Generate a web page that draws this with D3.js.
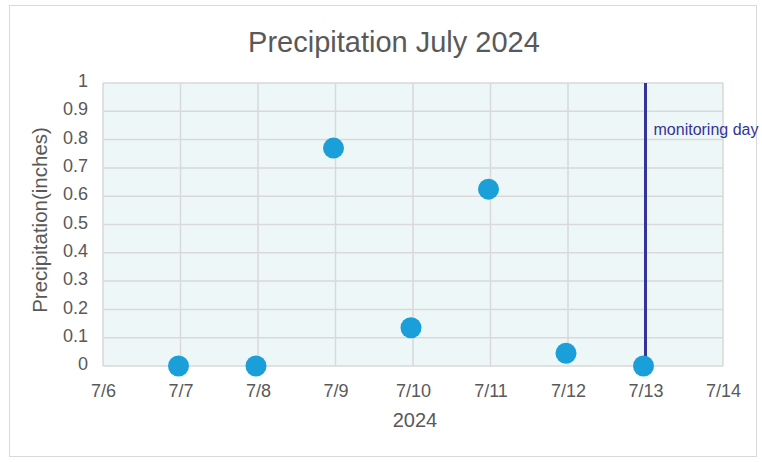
<!DOCTYPE html>
<html>
<head>
<meta charset="utf-8">
<script src="https://cdn.jsdelivr.net/npm/d3@7"></script>
<style>
  body { margin: 0; background: #fff; }
  svg text { font-family: "Liberation Sans", Arial, sans-serif; }
</style>
</head>
<body>
<div id="chart"></div>
<script>
// Precipitation scatter, July 2024
const dates = ['2024-07-07', '2024-07-08', '2024-07-09', '2024-07-10', '2024-07-11', '2024-07-12', '2024-07-13'];
const precip = [0, 0, 0.77, 0.135, 0.625, 0.045, 0];
const yTicks = [0, 0.1, 0.2, 0.3, 0.4, 0.5, 0.6, 0.7, 0.8, 0.9, 1];
const xDomain = ['2024-07-06', '2024-07-14'];
const monitoringDay = '2024-07-13';

const W = 762, H = 462;
const m = { left: 103, right: 39, top: 83, bottom: 96 };
const parse = d3.timeParse('%Y-%m-%d');

const svg = d3.select('#chart').append('svg')
  .attr('width', W)
  .attr('height', H);

// outer chart border
svg.append('rect')
  .attr('x', 9.5).attr('y', 5.5)
  .attr('width', 747).attr('height', 451)
  .attr('fill', '#fff')
  .attr('stroke', '#d9d9d9');

const x = d3.scaleTime()
  .domain(xDomain.map(parse))
  .range([m.left, W - m.right]);
const y = d3.scaleLinear()
  .domain([0, 1])
  .range([H - m.bottom, m.top]);

// plot background
svg.append('rect')
  .attr('x', m.left).attr('y', m.top)
  .attr('width', x.range()[1] - m.left)
  .attr('height', y(0) - m.top)
  .attr('fill', '#eef7f7');

const xTickVals = d3.timeDay.range(parse(xDomain[0]), d3.timeDay.offset(parse(xDomain[1]), 1));

// gridlines
svg.append('g')
  .attr('stroke', '#d9d9d9')
  .attr('stroke-width', 1.5)
  .selectAll('line.h')
  .data(yTicks)
  .join('line')
  .attr('x1', m.left).attr('x2', x.range()[1])
  .attr('y1', d => y(d)).attr('y2', d => y(d));

svg.append('g')
  .attr('stroke', '#d9d9d9')
  .attr('stroke-width', 1.5)
  .selectAll('line.v')
  .data(xTickVals)
  .join('line')
  .attr('x1', d => x(d)).attr('x2', d => x(d))
  .attr('y1', y(0)).attr('y2', y(1));

// axes (labels only)
const xAxis = svg.append('g')
  .attr('transform', `translate(0,${y(0)})`)
  .call(d3.axisBottom(x).tickValues(xTickVals).tickFormat(d3.timeFormat('%-m/%-d')).tickSize(0).tickPadding(18));
const yAxis = svg.append('g')
  .attr('transform', `translate(${m.left},0)`)
  .call(d3.axisLeft(y).tickValues(yTicks).tickFormat(d3.format('')).tickSize(0).tickPadding(15));
[xAxis, yAxis].forEach(a => {
  a.select('.domain').remove();
  a.selectAll('text')
    .attr('fill', '#595959')
    .style('font-size', '18px');
});
yAxis.selectAll('text').attr('dy', '0.2em');

// monitoring day line
const md = parse(monitoringDay);
svg.append('line')
  .attr('x1', x(md)).attr('x2', x(md))
  .attr('y1', y(1)).attr('y2', y(0))
  .attr('stroke', '#33339a')
  .attr('stroke-width', 3);
svg.append('text')
  .attr('x', x(md) + 8)
  .attr('y', 135)
  .attr('fill', '#33339a')
  .style('font-size', '16px')
  .text('monitoring day');

// points
svg.append('g')
  .selectAll('circle')
  .data(dates.map((d, i) => ({ date: parse(d), v: precip[i] })))
  .join('circle')
  .attr('cx', d => x(d.date) - 2)
  .attr('cy', d => y(d.v))
  .attr('r', 10.5)
  .attr('fill', '#1b9fd9');

// titles
svg.append('text')
  .attr('x', 394).attr('y', 52)
  .attr('text-anchor', 'middle')
  .attr('fill', '#595959')
  .style('font-size', '29px')
  .text('Precipitation July 2024');

svg.append('text')
  .attr('x', 415)
  .attr('y', 427)
  .attr('text-anchor', 'middle')
  .attr('fill', '#595959')
  .style('font-size', '20px')
  .text('2024');

svg.append('text')
  .attr('transform', `translate(47,220) rotate(-90)`)
  .attr('text-anchor', 'middle')
  .attr('fill', '#595959')
  .style('font-size', '20.5px')
  .text('Precipitation(inches)');
</script>
</body>
</html>
